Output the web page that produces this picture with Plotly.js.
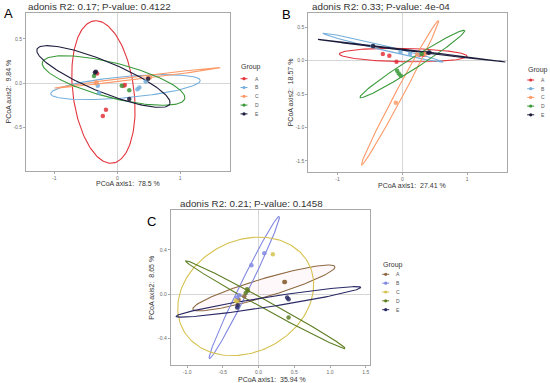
<!DOCTYPE html>
<html><head><meta charset="utf-8">
<script src="https://cdn.plot.ly/plotly-3.0.1.min.js"></script>
<style>html,body{margin:0;padding:0;background:#fff}</style>
</head><body><div id="chart" style="width:550px;height:383px"></div>
<script>
const groups = ['A','B','C','D','E'];
const colorsAB = ['#E3343C','#74AEDB','#FC9A68','#3A9A3A','#1C1C3C'];
const colorsC = ['#8E6840','#8088E0','#D6C250','#5E7E22','#2A2A66'];

const titles = ['adonis R2: 0.17; P-value: 0.4122','adonis R2: 0.33; P-value: 4e-04','adonis R2: 0.21; P-value: 0.1458'];
const xTitles = ['PCoA axis1:  78.5 %','PCoA axis1:  27.41 %','PCoA axis1:  35.94 %'];
const yTitles = ['PCoA axis2:  9.84 %','PCoA axis2:  18.57 %','PCoA axis2:  8.65 %'];
const panelLetters = ['A','B','C'];

// Panel A samples
const ptsA_group = ['A','A','A','A','A','B','B','B','B','B','C','C','C','C','D','D','D','E','E','E','E'];
const ptsA_x = [-0.32,0.10,0.12,-0.18,-0.23, -0.31,-0.29,0.32,0.35,0.45, -0.34,-0.33,0.49,0.52, -0.37,0.07,0.19, -0.355,-0.34,0.19,0.49];
const ptsA_y = [0.11,-0.03,-0.02,-0.30,-0.37, -0.03,-0.11,-0.07,-0.05,0.02, 0.00,0.01,0.06,0.065, 0.08,-0.03,-0.08, 0.12,0.13,-0.18,0.05];
// Panel A ellipses (centre, semi-axes, angle in degrees)
const ellA_cx = [-0.22,0.13,0.32,-0.06,-0.22];
const ellA_cy = [-0.10,-0.045,0.06,0.03,0.075];
const ellA_a = [0.82,1.19,1.32,1.15,1.10];
const ellA_b = [0.48,0.12,0.015,0.20,0.18];
const ellA_deg = [103,3.6,5,-10,-16];

// Panel B samples
const ptsB_group = ['A','A','A','A','A','B','B','B','B','C','C','C','D','D','D','D','E','E','E'];
const ptsB_x = [-0.30,-0.20,-0.09,0.27,0.33, -0.46,-0.03,0.12,0.25, 0.23,-0.10,0.35, -0.08,-0.055,-0.025,0.30, -0.45,0.40,0.42];
const ptsB_y = [0.10,0.075,-0.015,0.09,0.09, 0.22,0.13,0.10,0.10, 0.095,-0.63,0.10, -0.15,-0.19,-0.225,0.10, 0.22,0.12,0.125];
const ellB_cx = [0.015,-0.295,-0.035,0.155,0.145];
const ellB_cy = [0.085,0.195,-0.48,-0.05,0.15];
const ellB_a = [0.985,0.95,1.233,0.95,1.455];
const ellB_b = [0.10,0.035,0.06,0.08,0.01];
const ellB_deg = [-1,-13.1,61.2,31.8,-6.7];

// Panel C samples
const ptsC_group = ['A','A','A','A','B','B','B','B','C','C','C','D','D','D','D','E','E','E','E'];
const ptsC_x = [0.37,0.36,-0.28,-0.20, -0.10,0.08,-0.30,-0.27, 0.20,-0.32,-0.30, -0.15,-0.18,-0.16,0.42, 0.40,0.42,-0.30,-0.29];
const ptsC_y = [0.11,0.11,-0.05,-0.02, 0.26,0.37,-0.03,-0.01, 0.36,-0.06,-0.07, 0.03,0.01,0.045,-0.21, -0.03,-0.045,-0.12,-0.10];
const ellC_cx = [0.075,-0.20,-0.18,0.095,0.14];
const ellC_cy = [0.056,0.06,-0.02,-0.095,-0.07];
const ellC_a = [1.013,0.806,0.96,1.183,1.30];
const ellC_b = [0.085,0.06,0.52,0.04,0.045];
const ellC_deg = [10.8,52.6,9,-19.5,5.75];

// axis ranges and ticks
const rangesX = [[-1.45,1.79],[-1.45,1.62],[-1.23,1.56]];
const rangesY = [[-0.99,0.79],[-1.67,0.71],[-0.64,0.76]];
const tickX = [[-1,0,1],[-1,0,1],[-1,-0.5,0,0.5,1,1.5]];
const tickXtext = [['-1','0','1'],['-1','0','1'],['-1.0','-0.5','0.0','0.5','1.0','1.5']];
const tickY = [[-0.5,0,0.5],[-1.5,-1,-0.5,0,0.5],[-0.4,0,0.4]];
const tickYtext = [['-0.5','0.0','0.5'],['-1.5','-1.0','-0.5','0.0','0.5'],['-0.4','0.0','0.4']];

// layout geometry (pixels)
const W = 550, H = 383;
const frames = [[26,230,13.3,170.7],[308.3,507.3,13.3,172.3],[170.7,370,210,365]];
const legendPos = [[239,67.5,78.7,8.8],[525.7,70,80,8.7],[380.7,265,274.3,8.85]];
const titlePos = [[26,7],[310,7],[178,203.5]];
const letterPos = [[8.7,13.8],[286,14.5],[151,221.7]];
const xTitlePos = [[128,183.5],[412,185],[272,379]];
const yTitlePos = [[8.5,92],[290.5,92.8],[151.2,287.5]];

function ellipse(cx, cy, a, b, deg){
  const t = deg*Math.PI/180, xs=[], ys=[];
  for(let i=0;i<=160;i++){
    const s = 2*Math.PI*i/160, u=a*Math.cos(s), v=b*Math.sin(s);
    xs.push(cx+u*Math.cos(t)-v*Math.sin(t));
    ys.push(cy+u*Math.sin(t)+v*Math.cos(t));
  }
  return {xs, ys};
}

const panels = [
  {g:ptsA_group,x:ptsA_x,y:ptsA_y,cx:ellA_cx,cy:ellA_cy,a:ellA_a,b:ellA_b,d:ellA_deg,col:colorsAB},
  {g:ptsB_group,x:ptsB_x,y:ptsB_y,cx:ellB_cx,cy:ellB_cy,a:ellB_a,b:ellB_b,d:ellB_deg,col:colorsAB},
  {g:ptsC_group,x:ptsC_x,y:ptsC_y,cx:ellC_cx,cy:ellC_cy,a:ellC_a,b:ellC_b,d:ellC_deg,col:colorsC}
];

const traces = [], shapes = [], annotations = [];
const layout = {width:W,height:H,margin:{l:0,r:0,t:0,b:0},paper_bgcolor:'#fff',plot_bgcolor:'#fff',
  showlegend:false,font:{family:'Liberation Sans, Arial, sans-serif',color:'#333'}};
const px = v => v/W, py = v => 1 - v/H;
const nb = s => s.replace('  ',' \u00a0');

panels.forEach((p, k) => {
  const sfx = k===0 ? '' : String(k+1);
  const xa = 'x'+sfx, ya = 'y'+sfx;
  const fr = frames[k];
  const common = {showline:true,mirror:true,linecolor:'#A8A8A8',linewidth:1,showgrid:false,
    zeroline:true,zerolinecolor:'#D6D6D6',zerolinewidth:1,ticks:'outside',ticklen:2,tickcolor:'#A8A8A8',
    tickfont:{size:5,color:'#6a6a6a'},fixedrange:true};
  layout['xaxis'+sfx] = Object.assign({},common,{domain:[px(fr[0]),px(fr[1])],range:rangesX[k],anchor:ya,
    tickmode:'array',tickvals:tickX[k],ticktext:tickXtext[k]});
  layout['yaxis'+sfx] = Object.assign({},common,{domain:[py(fr[3]),py(fr[2])],range:rangesY[k],anchor:xa,
    tickmode:'array',tickvals:tickY[k],ticktext:tickYtext[k]});

  groups.forEach((g, i) => {
    const e = ellipse(p.cx[i],p.cy[i],p.a[i],p.b[i],p.d[i]);
    const fill = (k===2 && i===0) ? {fill:'toself',fillcolor:'rgba(235,160,180,0.07)'} : {};
    traces.push(Object.assign({type:'scatter',mode:'lines',x:e.xs,y:e.ys,xaxis:xa,yaxis:ya,
      line:{color:p.col[i],width:1.1},hoverinfo:'skip',name:g+' ellipse'},fill));
  });
  groups.forEach((g, i) => {
    const xs=[], ys=[];
    p.g.forEach((gg, j) => { if(gg===g){ xs.push(p.x[j]); ys.push(p.y[j]); } });
    traces.push({type:'scatter',mode:'markers',x:xs,y:ys,xaxis:xa,yaxis:ya,name:g,
      marker:{color:p.col[i],size:4.5,opacity:0.85}});
  });

  // title, axis titles, panel letter
  annotations.push({text:titles[k],xref:'paper',yref:'paper',x:px(titlePos[k][0]),y:py(titlePos[k][1]),
    xanchor:'left',yanchor:'middle',showarrow:false,font:{size:9.8,color:'#333'}});
  annotations.push({text:nb(xTitles[k]),xref:'paper',yref:'paper',x:px(xTitlePos[k][0]),y:py(xTitlePos[k][1]),
    xanchor:'center',yanchor:'middle',showarrow:false,font:{size:7,color:'#333'}});
  annotations.push({text:nb(yTitles[k]),xref:'paper',yref:'paper',x:px(yTitlePos[k][0]),y:py(yTitlePos[k][1]),
    xanchor:'center',yanchor:'middle',textangle:-90,showarrow:false,font:{size:7,color:'#333'}});
  annotations.push({text:panelLetters[k],xref:'paper',yref:'paper',x:px(letterPos[k][0]),y:py(letterPos[k][1]),
    xanchor:'center',yanchor:'middle',showarrow:false,font:{size:13,color:'#000'}});
  // legend
  const lp = legendPos[k];
  annotations.push({text:'Group',xref:'paper',yref:'paper',x:px(lp[0]),y:py(lp[1]),xanchor:'left',yanchor:'middle',
    showarrow:false,font:{size:7,color:'#333'}});
  groups.forEach((g, i) => {
    const yy = lp[2] + lp[3]*i, x0 = lp[0]+1.5;
    shapes.push({type:'line',xref:'paper',yref:'paper',x0:px(x0),x1:px(x0+7),y0:py(yy),y1:py(yy),
      line:{color:p.col[i],width:1}});
    shapes.push({type:'circle',xref:'paper',yref:'paper',x0:px(x0+1.9),x1:px(x0+5.1),y0:py(yy+1.6),y1:py(yy-1.6),
      fillcolor:p.col[i],line:{width:0}});
    annotations.push({text:g,xref:'paper',yref:'paper',x:px(lp[0]+13.5),y:py(yy),xanchor:'left',yanchor:'middle',
      showarrow:false,font:{size:5,color:'#555'}});
  });
});
layout.shapes = shapes;
layout.annotations = annotations;
Plotly.newPlot('chart', traces, layout, {staticPlot:true});
</script></body></html>
